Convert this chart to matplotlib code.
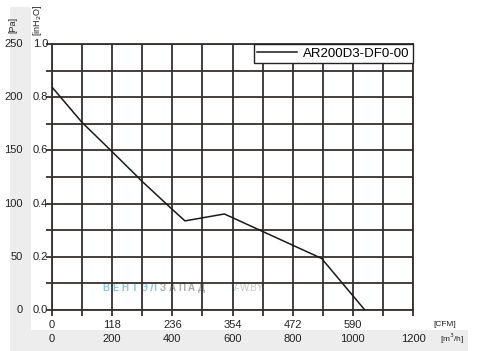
import matplotlib
matplotlib.use("Agg")
import matplotlib.pyplot as plt
from matplotlib.patches import Rectangle

plt.rcParams['font.family'] = ['Liberation Sans', 'DejaVu Sans']

# fan curve: flow in m3/h, pressure in inH2O
flow = [0, 100, 200, 300, 400, 442, 573, 896, 1040]
pressure = [0.838, 0.705, 0.595, 0.483, 0.378, 0.335, 0.361, 0.194, 0.0]
model = "AR200D3-DF0-00"

m3h_ticks = [0, 200, 400, 600, 800, 1000, 1200]
cfm_labels = ["0", "118", "236", "354", "472", "590"]
inh2o_ticks = [0.0, 0.2, 0.4, 0.6, 0.8, 1.0]
pa_labels = ["0", "50", "100", "150", "200", "250"]

W, H = 478, 351
fig = plt.figure(figsize=(W / 100, H / 100), dpi=100)

# grey label bands (left and bottom)
fig.patches.append(Rectangle((10 / W, 0), 21 / W, 344 / H, transform=fig.transFigure,
                             facecolor="#ededed", edgecolor="none", zorder=-2))
fig.patches.append(Rectangle((10 / W, 0), 458 / W, 21 / H, transform=fig.transFigure,
                             facecolor="#ededed", edgecolor="none", zorder=-2))

ax = fig.add_axes([52 / W, 41 / H, 361 / W, 266 / H])
ax.set_facecolor("none")
gc = "#36302d"
ax.set_xlim(0, 1200)
ax.set_ylim(0, 1.0)
ax.set_xticks(range(0, 1201, 100))
ax.set_yticks([i / 10 for i in range(11)])
ax.grid(True, color=gc, linewidth=1.3)
ax.tick_params(axis="both", direction="out", length=4, width=1.3, color=gc,
               labelbottom=False, labelleft=False)
for s in ax.spines.values():
    s.set_color(gc)
    s.set_linewidth(1.3)

ax.plot(flow, pressure, color="#1a1a1a", linewidth=1.1, label=model, zorder=3)

leg = ax.legend(loc="upper right", borderaxespad=0, fancybox=False, framealpha=1,
                edgecolor="#222222", fontsize=9.5, handlelength=3.0,
                borderpad=0.25, handletextpad=0.5)
leg.get_frame().set_linewidth(1.0)
leg.set_zorder(5)

def fx(px):
    return px / W

def fy(py):
    return 1 - py / H

# y-axis labels
for v in inh2o_ticks:
    py = 310 - v * 266
    fig.text(fx(48), fy(py), f"{v:.1f}", ha="right", va="center", fontsize=8, color="#222222")
for v, lab in zip(inh2o_ticks, pa_labels):
    py = 310 - v * 266
    fig.text(fx(23), fy(py), lab, ha="right", va="center", fontsize=8, color="#222222")
fig.text(fx(13), fy(25), "[Pa]", rotation=90, ha="center", va="center", fontsize=6.5, color="#222222")
fig.text(fx(38), fy(20), "[inH$_2$O]", rotation=90, ha="center", va="center", fontsize=6.5, color="#222222")

# x-axis labels
for v, lab in zip(m3h_ticks, cfm_labels):
    px = 52 + v / 1200 * 361
    fig.text(fx(px), fy(325.5), lab, ha="center", va="center", fontsize=8, color="#222222")
for v in m3h_ticks:
    px = 52 + v / 1200 * 361
    fig.text(fx(px), fy(338.5), str(v), ha="center", va="center", fontsize=8, color="#222222")
fig.text(fx(445), fy(324), "[CFM]", ha="center", va="center", fontsize=6, color="#222222")
fig.text(fx(452), fy(338.5), "[m$^3$/h]", ha="center", va="center", fontsize=6, color="#222222")

# faint watermark, behind the grid
wm = "ВЕНТЭЛЗАПАД"
for i, ch in enumerate(wm):
    col = "#8cc3e8" if i < 6 else "#a9a9a9"
    fig.text(fx(106 + i * 9.5), fy(288), ch, ha="center", va="center", fontsize=7,
             fontweight="bold", color=col, zorder=-1)
fig.text(fx(231), fy(288), "V-", ha="left", va="center", fontsize=7, color="#a8cdea", zorder=-1)
fig.text(fx(240), fy(288), "W.BY", ha="left", va="center", fontsize=7, color="#c4c4c4", zorder=-1)

fig.savefig("out.png", dpi=100)
